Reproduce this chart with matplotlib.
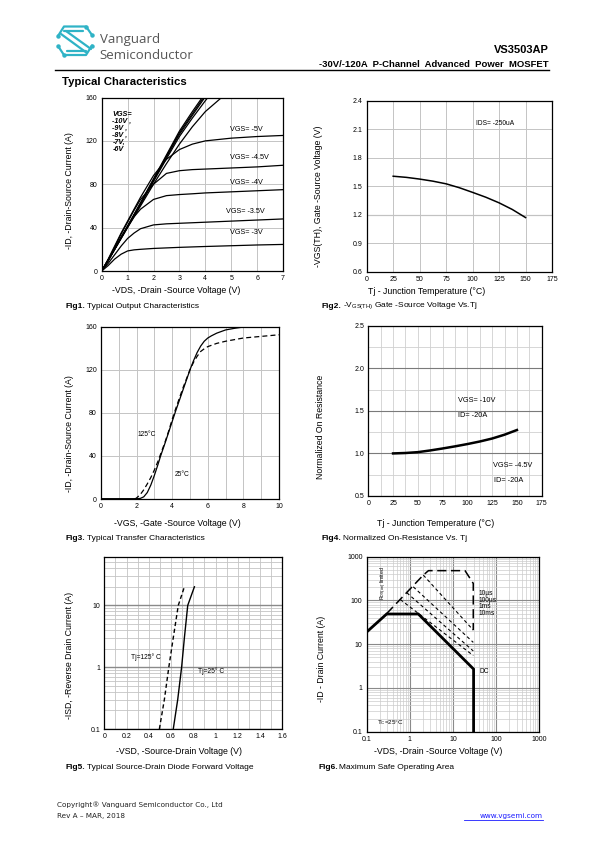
import matplotlib
matplotlib.use('Agg')
import matplotlib.pyplot as plt
from matplotlib import font_manager
from matplotlib.ticker import NullFormatter

# ---- data ----
# Fig1 output characteristics: -VDS (V) vs -ID (A) per VGS
vds_sat = [0, 0.25, 0.5, 0.75, 1, 1.25, 1.5, 2, 2.5, 3, 3.5, 4, 5, 6, 7]
id_vgs3 = [0, 5, 11, 15.5, 18.5, 19.5, 20, 20.8, 21.3, 21.8, 22.2, 22.6, 23.3, 24, 24.5]
id_vgs35 = [0, 7, 15, 23, 30, 35, 39, 42.5, 43.5, 44, 44.5, 45, 46, 47, 48]
id_vgs4 = [0, 9, 20, 31, 41, 50, 57, 66, 69.5, 70.5, 71.2, 72, 73, 74, 75]
id_vgs45 = [0, 10, 22, 34, 45, 56, 66, 80, 90, 92.5, 93.5, 94, 95, 96, 97.5]
id_vgs5 = [0, 11, 23, 35, 46, 57, 68, 88, 103, 112, 117, 120, 122.5, 124, 125]
vds_lin = [0, 0.5, 1, 1.5, 2, 2.5, 3, 3.5, 4, 4.63]
id_vgs6 = [0, 19.8, 40, 60, 80, 99, 117, 133, 147, 160]
vds_lin7 = [0, 0.5, 1, 1.5, 2, 2.5, 3, 3.5, 4, 4.1]
id_vgs7 = [0, 20, 40.5, 61.5, 82.5, 103.5, 124, 141, 157, 160]
vds_lin8 = [0, 0.5, 1, 1.5, 2, 2.5, 3, 3.5, 3.98]
id_vgs8 = [0, 20.2, 41, 62, 83.5, 105, 126, 143.5, 160]
vds_lin9 = [0, 0.5, 1, 1.5, 2, 2.5, 3, 3.5, 3.93]
id_vgs9 = [0, 20.3, 41.2, 62.5, 84.2, 106, 127.5, 145, 160]
vds_lin10 = [0, 0.5, 1, 1.5, 2, 2.5, 3, 3.5, 3.88]
id_vgs10 = [0, 20.5, 41.5, 63, 85, 107, 129, 147, 160]

# Fig2 threshold voltage vs Tj
tj = [25, 37.5, 50, 62.5, 75, 87.5, 100, 112.5, 125, 137.5, 150]
vth = [1.605, 1.593, 1.575, 1.553, 1.525, 1.484, 1.435, 1.384, 1.325, 1.255, 1.17]

# Fig3 transfer characteristics
vgs_25 = [0, 1, 2, 2.2, 2.4, 2.6, 2.8, 3.0, 3.2, 3.35, 3.6, 3.8, 4.0, 4.2, 4.4, 4.6,
          4.8, 5.0, 5.2, 5.4, 5.6, 5.8, 6.0, 6.2, 6.5, 7, 7.5, 8, 8.5]
id_25 = [0.3, 0.3, 0.3, 0.5, 2, 6, 13, 22, 32, 40, 52, 62, 72, 82, 91.5, 101,
         110.5, 120, 128.5, 136, 142, 146.5, 149.5, 151.5, 154, 157, 158.5, 159.7, 160.5]
vgs_125 = [1.9, 2.0, 2.2, 2.4, 2.6, 2.8, 3.0, 3.2, 3.4, 3.6, 3.8, 4.0, 4.2, 4.4, 4.6,
           4.8, 5.0, 5.2, 5.4, 5.6, 5.8, 6.0, 6.5, 7, 7.5, 8, 9, 10]
id_125 = [0, 1, 4, 8.5, 14, 20, 27, 35, 44, 53, 63, 74, 84, 93.5, 103,
          111.5, 120, 127, 132.5, 137, 139.5, 141.5, 144.5, 146.5, 148, 149.5, 151, 152.5]

# Fig4 normalized on-resistance
tj4 = [25, 37.5, 50, 62.5, 75, 87.5, 100, 112.5, 125, 137.5, 150]
ron = [1.0, 1.005, 1.015, 1.035, 1.058, 1.083, 1.11, 1.14, 1.175, 1.22, 1.275]

# Fig5 body diode forward voltage
vsd_25 = [0.62, 0.66, 0.695, 0.72, 0.75, 0.81]
isd_25 = [0.1, 0.3, 1, 3, 10, 20]
vsd_125 = [0.495, 0.54, 0.58, 0.62, 0.665, 0.72]
isd_125 = [0.1, 0.3, 1, 3, 10, 20]

# Fig6 safe operating area
dc_v = [0.1, 0.29, 1.57, 30, 30]
dc_i = [19, 49, 49, 2.7, 0.1]
env_v = [0.29, 2.05, 2.7, 19, 29.5, 29.5]
env_i = [50, 380, 480, 480, 245, 21]
p10us_v = [2.05, 29.5]
p10us_i = [380, 21]
p100us_v = [1.2, 29.5]
p100us_i = [205, 11]
p1ms_v = [0.85, 29.5]
p1ms_i = [150, 7]
p10ms_v = [0.6, 29.5]
p10ms_i = [105, 5.5]

# ---- page setup ----
W, H = 595, 842
names = {f.name for f in font_manager.fontManager.ttflist}
SANS = 'Liberation Sans'
NARROW = 'Liberation Sans Narrow' if 'Liberation Sans Narrow' in names else SANS
plt.rcParams['font.family'] = [SANS, 'DejaVu Sans']
plt.rcParams['mathtext.fontset'] = 'custom'
plt.rcParams['mathtext.rm'] = SANS

fig = plt.figure(figsize=(W / 100, H / 100), dpi=100)

GRID = '#c4c4c4'
TICK_FS = 5
LAB_FS = 6.3
CAP_FS = 6


def make_ax(l, r, t, b):
    return fig.add_axes([l / W, 1 - b / H, (r - l) / W, (b - t) / H])


def style(ax, xt, xl, yt, yl):
    ax.set_xticks(xt)
    ax.set_xticklabels(xl, fontfamily=NARROW, fontsize=TICK_FS)
    ax.set_yticks(yt)
    ax.set_yticklabels(yl, fontfamily=NARROW, fontsize=TICK_FS)
    ax.tick_params(which='both', length=0, pad=3)
    for s in ax.spines.values():
        s.set_linewidth(0.9)
        s.set_color('black')
    ax.set_axisbelow(True)


# overlay for page text
page = fig.add_axes([0, 0, 1, 1])
page.set_xlim(0, W)
page.set_ylim(H, 0)
page.axis('off')


def ptext(x, y, s, **kw):
    page.text(x, y, s, **kw)


def caption(x, y, num, rest):
    t = page.text(x, y, num, fontsize=CAP_FS, fontweight='bold', va='center')
    fig.canvas.draw()
    bb = t.get_window_extent()
    page.text(x + bb.width + 1.5, y, rest, fontsize=CAP_FS, va='center')


# ---- Fig1 ----
ax1 = make_ax(101.7, 283, 97.5, 271)
for x, y in [(vds_sat, id_vgs3), (vds_sat, id_vgs35), (vds_sat, id_vgs4),
             (vds_sat, id_vgs45), (vds_sat, id_vgs5), (vds_lin, id_vgs6),
             (vds_lin7, id_vgs7), (vds_lin8, id_vgs8), (vds_lin9, id_vgs9),
             (vds_lin10, id_vgs10)]:
    ax1.plot(x, y, color='black', lw=0.9, clip_on=True)
ax1.set_xlim(0, 7)
ax1.set_ylim(0, 160)
style(ax1, range(8), [str(i) for i in range(8)], [0, 40, 80, 120, 160],
      ['0', '40', '80', '120', '160'])
ax1.grid(True, color=GRID, lw=0.7)
for txt, x, y in [('VGS= -5V', 4.95, 127), ('VGS= -4.5V', 4.95, 101.6),
                  ('VGS= -4V', 4.95, 78.6), ('VGS= -3.5V', 4.8, 51.6),
                  ('VGS= -3V', 4.95, 32.2)]:
    ax1.text(x, y, txt, fontsize=5.2, fontfamily=NARROW, va='bottom', ha='left')
ax1.text(0.41, 148, 'VGS=\n-10V ,\n-9V ,\n-8V ,\n-7V,\n-6V', fontsize=5.2,
         fontfamily=NARROW, fontweight='bold', fontstyle='italic', va='top',
         ha='left', linespacing=1.0)
ptext(176, 290.7, '-VDS, -Drain -Source Voltage (V)', fontsize=LAB_FS, ha='center', va='center')
ptext(69, 190.5, '-ID, -Drain-Source Current (A)', fontsize=LAB_FS, ha='center',
      va='center', rotation=90)
caption(66, 306.5, 'Fig1.', 'Typical Output Characteristics')

# ---- Fig2 ----
ax2 = make_ax(366.7, 552, 100.7, 271.7)
ax2.plot(tj, vth, color='black', lw=1.1)
ax2.set_xlim(0, 175)
ax2.set_ylim(0.6, 2.4)
style(ax2, range(0, 176, 25), [str(v) for v in range(0, 176, 25)],
      [0.6, 0.9, 1.2, 1.5, 1.8, 2.1, 2.4], ['0.6', '0.9', '1.2', '1.5', '1.8', '2.1', '2.4'])
ax2.grid(True, color=GRID, lw=0.7)
ax2.axhline(1.2, color='#8a8a8a', lw=0.8, zorder=0.5)
ax2.text(103, 2.16, 'IDS= -250uA', fontsize=4.8, fontfamily=NARROW, va='center')
ptext(427, 291, 'Tj - Junction Temperature (\u00b0C)', fontsize=LAB_FS, ha='center', va='center')
ptext(318.5, 196, '-VGS(TH), Gate -Source Voltage (V)', fontsize=LAB_FS, ha='center',
      va='center', rotation=90)
caption(321.7, 306.5, 'Fig2.', r'-V$_{\mathregular{GS(TH)}}$ Gate -Source Voltage Vs.Tj')

# ---- Fig3 ----
ax3 = make_ax(101, 279, 326.7, 499)
ax3.plot(vgs_25, id_25, color='black', lw=0.9)
ax3.plot(vgs_125, id_125, color='black', lw=0.9, ls=(0, (4, 2.5)))
ax3.set_xlim(0, 10)
ax3.set_ylim(0, 160)
style(ax3, range(0, 11, 2), [str(v) for v in range(0, 11, 2)], [0, 40, 80, 120, 160],
      ['0', '40', '80', '120', '160'])
ax3.set_xticks(range(0, 11), minor=True)
ax3.grid(True, which='both', color=GRID, lw=0.7)
ax3.text(2.06, 60, '125\u00b0C', fontsize=4.8, fontfamily=NARROW, va='center')
ax3.text(4.12, 22.3, '25\u00b0C', fontsize=4.8, fontfamily=NARROW, va='center')
ptext(177, 523.3, '-VGS, -Gate -Source Voltage (V)', fontsize=LAB_FS, ha='center', va='center')
ptext(70, 434, '-ID, -Drain-Source Current (A)', fontsize=LAB_FS, ha='center',
      va='center', rotation=90)
caption(66, 538, 'Fig3.', 'Typical Transfer Characteristics')

# ---- Fig4 ----
ax4 = make_ax(368.3, 541.7, 325.7, 496)
ax4.plot(tj4, ron, color='black', lw=1.8)
ax4.set_xlim(0, 175)
ax4.set_ylim(0.5, 2.5)
style(ax4, range(0, 176, 25), [str(v) for v in range(0, 176, 25)],
      [0.5, 1.0, 1.5, 2.0, 2.5], ['0.5', '1.0', '1.5', '2.0', '2.5'])
ax4.set_xticks([12.5 + 25 * i for i in range(7)], minor=True)
ax4.set_yticks([0.75, 1.25, 1.75, 2.25], minor=True)
ax4.grid(True, which='minor', color='#d0d0d0', lw=0.6)
ax4.grid(True, which='major', axis='x', color='#d0d0d0', lw=0.6)
ax4.grid(True, which='major', axis='y', color='#7a7a7a', lw=0.8)
for txt, x, y in [('VGS= -10V', 90.2, 1.616), ('ID= -20A', 90.8, 1.44),
                  ('VGS= -4.5V', 126, 0.864), ('ID= -20A', 127, 0.687)]:
    ax4.text(x, y, txt, fontsize=5.3, fontfamily=NARROW, va='center')
ptext(435.5, 523.3, 'Tj - Junction Temperature (\u00b0C)', fontsize=LAB_FS, ha='center', va='center')
ptext(320.7, 427, 'Normalized On Resistance', fontsize=LAB_FS, ha='center',
      va='center', rotation=90)
caption(321.7, 538, 'Fig4.', 'Normalized On-Resistance Vs. Tj')

# ---- Fig5 ----
ax5 = make_ax(104.3, 282.3, 557.3, 729)
ax5.plot(vsd_25, isd_25, color='black', lw=1.0)
ax5.plot(vsd_125, isd_125, color='black', lw=1.0, ls=(0, (3, 2)))
ax5.set_yscale('log')
ax5.set_xlim(0, 1.6)
ax5.set_ylim(0.1, 60)
xt5 = [0, 0.2, 0.4, 0.6, 0.8, 1.0, 1.2, 1.4, 1.6]
style(ax5, xt5, ['0', '0.2', '0.4', '0.6', '0.8', '1', '1.2', '1.4', '1.6'],
      [0.1, 1, 10], ['0.1', '1', '10'])
ax5.yaxis.set_minor_formatter(NullFormatter())
ax5.set_xticks([0.1 * i for i in range(17)], minor=True)
ax5.grid(True, which='minor', color=GRID, lw=0.6)
ax5.grid(True, which='major', axis='x', color=GRID, lw=0.6)
ax5.grid(True, which='major', axis='y', color='#8a8a8a', lw=1.0)
ax5.text(0.237, 1.45, 'Tj=125\u00b0 C', fontsize=4.8, fontfamily=NARROW, va='center')
ax5.text(0.845, 0.87, 'Tj=25\u00b0 C', fontsize=4.8, fontfamily=NARROW, va='center')
ptext(179, 751, '-VSD, -Source-Drain Voltage (V)', fontsize=LAB_FS, ha='center', va='center')
ptext(70, 655.5, '-ISD, -Reverse Drain Current (A)', fontsize=LAB_FS, ha='center',
      va='center', rotation=90)
caption(66, 767.3, 'Fig5.', 'Typical Source-Drain Diode Forward Voltage')

# ---- Fig6 ----
ax6 = make_ax(366.7, 539.3, 556.7, 731.7)
ax6.plot(dc_v, dc_i, color='black', lw=2.0, solid_joinstyle='miter')
ax6.plot(env_v, env_i, color='black', lw=1.1, ls=(0, (6, 3)))
for x, y in [(p10us_v, p10us_i), (p100us_v, p100us_i), (p1ms_v, p1ms_i), (p10ms_v, p10ms_i)]:
    ax6.plot(x, y, color='black', lw=0.8, ls=(0, (3, 2.5)))
ax6.set_xscale('log')
ax6.set_yscale('log')
ax6.set_xlim(0.1, 1000)
ax6.set_ylim(0.1, 1000)
dec = [0.1, 1, 10, 100, 1000]
style(ax6, dec, ['0.1', '1', '10', '100', '1000'], dec, ['0.1', '1', '10', '100', '1000'])
ax6.xaxis.set_minor_formatter(NullFormatter())
ax6.yaxis.set_minor_formatter(NullFormatter())
ax6.grid(True, which='minor', color='#cccccc', lw=0.5)
ax6.grid(True, which='major', color='#8a8a8a', lw=0.8)
ax6.text(0.25, 250, r'R$_{\mathregular{DS(on)}}$ limited', fontsize=3.8, fontfamily=NARROW,
         rotation=90, ha='center', va='center')
ax6.text(38.5, 175, '10\u00b5s\n100\u00b5s\n1ms\n10ms', fontsize=4.8, fontfamily=NARROW,
         va='top', ha='left', linespacing=0.95)
ax6.text(42, 2.35, 'DC', fontsize=4.8, fontfamily=NARROW, va='center')
ax6.text(0.17, 0.16, 'T$_{\\mathregular{C}}$=25\u00b0C', fontsize=4.5, fontfamily=NARROW,
         va='center')
ptext(438.3, 751, '-VDS, -Drain -Source Voltage (V)', fontsize=LAB_FS, ha='center', va='center')
ptext(321.7, 659, '-ID - Drain Current (A)', fontsize=LAB_FS, ha='center',
      va='center', rotation=90)
caption(318.3, 767.3, 'Fig6.', 'Maximum Safe Operating Area')

# ---- header ----
LOGO = '#2fb3c6'
segs = [
    [(58, 36), (64, 26.5), (86, 26.5), (92, 35)],
    [(64, 31), (83, 31)],
    [(61, 34), (87, 53)],
    [(66, 31), (91, 49)],
    [(58, 46), (64, 55), (86, 55), (92, 45.5)],
    [(67, 50.5), (86, 50.5)],
]
for sg in segs:
    page.plot([p[0] for p in sg], [p[1] for p in sg], color=LOGO, lw=1.6,
              solid_capstyle='round', solid_joinstyle='round')
for px, py in [(86, 26.5), (92, 35), (58, 36), (58, 46), (64, 55), (92, 45.5)]:
    page.plot(px, py, 'o', color=LOGO, ms=2.2)
ptext(99.5, 43.5, 'Vanguard', fontsize=9.5, family='Open Sans', color='#555555', va='baseline')
ptext(99.5, 59.2, 'Semiconductor', fontsize=9.5, family='Open Sans', color='#555555', va='baseline')
ptext(549, 53.3, 'VS3503AP', fontsize=8, fontweight='bold', ha='right', va='baseline')
ptext(549, 66.7, '-30V/-120A  P-Channel  Advanced  Power  MOSFET', fontsize=6.8,
      fontweight='bold', ha='right', va='baseline')
page.plot([55, 549], [70.2, 70.2], color='black', lw=1.0)
ptext(61.7, 85, 'Typical Characteristics', fontsize=8.2, fontweight='bold', va='baseline')

# ---- footer ----
ptext(57.3, 807.3, 'Copyright\u00ae Vanguard Semiconductor Co., Ltd', fontsize=5.2,
      family='DejaVu Sans', color='#222222', va='baseline')
ptext(57.3, 818.3, 'Rev A \u2013 MAR, 2018', fontsize=5.2, family='DejaVu Sans',
      color='#222222', va='baseline')
ptext(542.7, 818.3, 'www.vgsemi.com', fontsize=5.2, family='DejaVu Sans', color='#1a1aff',
      ha='right', va='baseline')
page.plot([464, 542.7], [819.8, 819.8], color='#1a1aff', lw=0.6)

fig.savefig('out.png', dpi=100)
